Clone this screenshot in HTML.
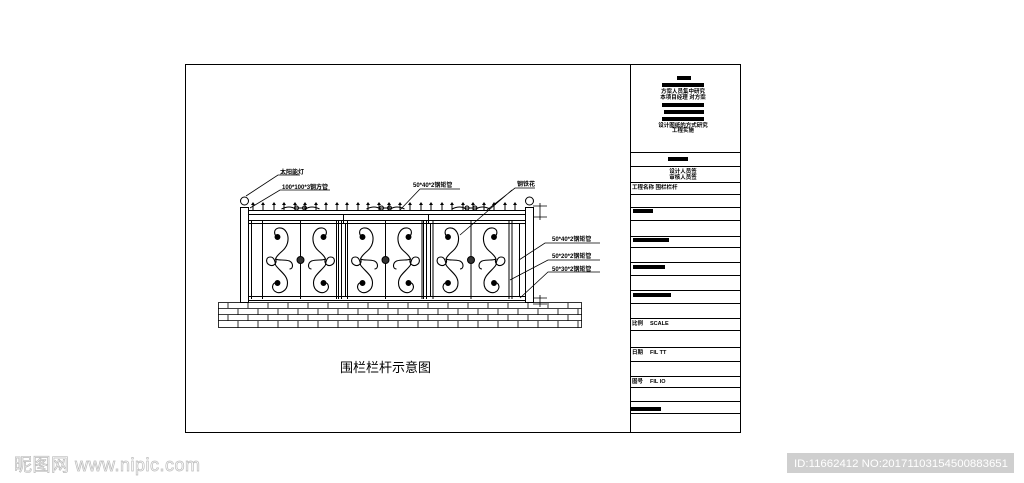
<!DOCTYPE html>
<html><head><meta charset="utf-8"><style>
html,body{margin:0;padding:0;background:#fff;}
body{width:1024px;height:483px;overflow:hidden;position:relative;font-family:"Liberation Sans","Noto Sans CJK SC",sans-serif;}
svg{position:absolute;left:0;top:0;}
</style></head><body>
<svg width="1024" height="483" viewBox="0 0 1024 483" xmlns="http://www.w3.org/2000/svg">
<defs>
<g id="sc" fill="none" stroke="#000" stroke-width="1.1">
<path d="M12,12 C8,10 8,4 13,3 C20,2 24,10 22,18 C20,26 12,28 10,34 C12,38 8,42 4,40 C0,38 0,32 5,32 C9,32 10,38 10,40"/>
<path d="M10,40 C14,46 22,50 22,58 C22,66 14,70 9,66 C5,62 8,56 12,58"/>
<path d="M10,34 C14,36 18,34 24,36 C28,38 28,44 24,44"/>
<circle cx="12" cy="12" r="2.4" fill="#000"/>
<circle cx="12" cy="58" r="2.4" fill="#000"/>
</g>
<g id="panel">
<line x1="0" y1="0" x2="0" y2="78" stroke="#000"/>
<line x1="11" y1="0" x2="11" y2="78" stroke="#000"/>
<line x1="49" y1="0" x2="49" y2="78" stroke="#000"/>
<line x1="87" y1="0" x2="87" y2="78" stroke="#000"/>
<line x1="90" y1="0" x2="90" y2="78" stroke="#000"/>
<use href="#sc" transform="translate(14,4)"/>
<use href="#sc" transform="translate(84,4) scale(-1,1)"/>
<circle cx="49" cy="39" r="3.5" fill="#333" stroke="#000"/>
<path d="M30,-12 q8,-4 14,0 M68,-12 q-8,-4 -14,0 M43,-13 h12" stroke="#000" fill="none"/>
<circle cx="45" cy="-13" r="2" fill="none" stroke="#000"/><circle cx="53" cy="-13" r="2" fill="none" stroke="#000"/>
</g>
</defs>
<rect x="185.5" y="64.5" width="555" height="368" fill="none" stroke="#000"/>
<line x1="630.5" y1="64" x2="630.5" y2="433" stroke="#000"/>
<g stroke="#000" stroke-width="1">
<line x1="630" y1="152.5" x2="740" y2="152.5"/><line x1="630" y1="166.5" x2="740" y2="166.5"/>
<line x1="630" y1="182.5" x2="740" y2="182.5"/><line x1="630" y1="194.5" x2="740" y2="194.5"/>
<line x1="630" y1="207.5" x2="740" y2="207.5"/><line x1="630" y1="220.5" x2="740" y2="220.5"/>
<line x1="630" y1="236.5" x2="740" y2="236.5"/><line x1="630" y1="247.5" x2="740" y2="247.5"/>
<line x1="630" y1="262.5" x2="740" y2="262.5"/><line x1="630" y1="275.5" x2="740" y2="275.5"/>
<line x1="630" y1="290.5" x2="740" y2="290.5"/><line x1="630" y1="303.5" x2="740" y2="303.5"/>
<line x1="630" y1="318.5" x2="740" y2="318.5"/><line x1="630" y1="330.5" x2="740" y2="330.5"/>
<line x1="630" y1="347.5" x2="740" y2="347.5"/><line x1="630" y1="361.5" x2="740" y2="361.5"/>
<line x1="630" y1="376.5" x2="740" y2="376.5"/><line x1="630" y1="387.5" x2="740" y2="387.5"/>
<line x1="630" y1="401.5" x2="740" y2="401.5"/><line x1="630" y1="413.5" x2="740" y2="413.5"/>
</g>
<g fill="#000">
<rect x="677" y="76" width="14" height="4"/>
<rect x="662" y="83" width="42" height="4"/>
<rect x="662" y="103" width="42" height="4"/>
<rect x="664" y="110" width="40" height="4"/>
<rect x="662" y="117" width="42" height="4"/>
<rect x="668" y="157" width="20" height="4"/>
<rect x="633" y="209" width="20" height="4"/>
<rect x="633" y="238" width="36" height="4"/>
<rect x="633" y="265" width="32" height="4"/>
<rect x="633" y="293" width="38" height="4"/>
<rect x="631" y="407" width="30" height="4"/>
</g>
<g font-size="5.5" fill="#000" text-anchor="middle" font-weight="bold">
<text x="683" y="93">方案人员集中研究</text><text x="683" y="99">本项目经理 对方案</text>
<text x="683" y="127">设计图纸的方式研究</text><text x="683" y="132">工程实施</text>
<text x="683" y="173">设计人员签</text><text x="683" y="179">审核人员签</text>
</g>
<g font-size="5.5" fill="#000" font-weight="bold">
<text x="632" y="189">工程名称 围栏栏杆</text>
<text x="632" y="325">比例</text><text x="650" y="325">SCALE</text>
<text x="632" y="354">日期</text><text x="650" y="354">FIL TT</text>
<text x="632" y="383">图号</text><text x="650" y="383">FIL IO</text>
</g>
<g stroke="#000" fill="none" stroke-width="1">
<rect x="240.5" y="207.5" width="8" height="95"/>
<rect x="525.5" y="207.5" width="8" height="95"/>
<circle cx="244.5" cy="201" r="4"/><circle cx="529.5" cy="201" r="4"/>
<line x1="248" y1="210.5" x2="525" y2="210.5"/><line x1="248" y1="214.5" x2="525" y2="214.5"/>
<line x1="248" y1="220.5" x2="525" y2="220.5"/><line x1="248" y1="223.5" x2="525" y2="223.5"/>
<line x1="248" y1="296.5" x2="525" y2="296.5"/><line x1="248" y1="300.5" x2="525" y2="300.5"/>
<line x1="343.5" y1="214" x2="343.5" y2="224"/><line x1="428.5" y1="214" x2="428.5" y2="224"/>
<line x1="345.5" y1="224" x2="345.5" y2="297"/><line x1="430.5" y1="224" x2="430.5" y2="297"/>
<line x1="519.5" y1="224" x2="519.5" y2="297"/>
</g>
<g stroke="#000">
<path d="M253,210 v-6 M263,210 v-6 M274,210 v-6 M284,210 v-6 M295,210 v-6 M305,210 v-6 M316,210 v-6 M326,210 v-6 M337,210 v-6 M347,210 v-6 M358,210 v-6 M368,210 v-6 M379,210 v-6 M389,210 v-6 M400,210 v-6 M410,210 v-6 M421,210 v-6 M431,210 v-6 M442,210 v-6 M452,210 v-6 M463,210 v-6 M473,210 v-6 M484,210 v-6 M494,210 v-6 M505,210 v-6 M515,210 v-6"/>
</g>
<g fill="#000">
<path d="M251,205 l2,-3 l2,3z M261,205 l2,-3 l2,3z M272,205 l2,-3 l2,3z M282,205 l2,-3 l2,3z M293,205 l2,-3 l2,3z M303,205 l2,-3 l2,3z M314,205 l2,-3 l2,3z M324,205 l2,-3 l2,3z M335,205 l2,-3 l2,3z M345,205 l2,-3 l2,3z M356,205 l2,-3 l2,3z M366,205 l2,-3 l2,3z M377,205 l2,-3 l2,3z M387,205 l2,-3 l2,3z M398,205 l2,-3 l2,3z M408,205 l2,-3 l2,3z M419,205 l2,-3 l2,3z M429,205 l2,-3 l2,3z M440,205 l2,-3 l2,3z M450,205 l2,-3 l2,3z M461,205 l2,-3 l2,3z M471,205 l2,-3 l2,3z M482,205 l2,-3 l2,3z M492,205 l2,-3 l2,3z M503,205 l2,-3 l2,3z M513,205 l2,-3 l2,3z"/>
</g>
<use href="#panel" transform="translate(251.5,221)"/>
<use href="#panel" transform="translate(336.5,221)"/>
<use href="#panel" transform="translate(422,221)"/>
<g stroke="#000" fill="none" stroke-width="0.8">
<rect x="218.5" y="302.5" width="363" height="25"/>
<path d="M218,308.5h364M218,314.5h364M218,320.5h364"/>
<path d="M228,303v5M248,303v5M268,303v5M288,303v5M308,303v5M328,303v5M348,303v5M368,303v5M388,303v5M408,303v5M428,303v5M448,303v5M468,303v5M488,303v5M508,303v5M528,303v5M548,303v5M568,303v5
M238,309v6M258,309v6M278,309v6M298,309v6M318,309v6M338,309v6M358,309v6M378,309v6M398,309v6M418,309v6M438,309v6M458,309v6M478,309v6M498,309v6M518,309v6M538,309v6M558,309v6M578,309v6
M228,315v6M248,315v6M268,315v6M288,315v6M308,315v6M328,315v6M348,315v6M368,315v6M388,315v6M408,315v6M428,315v6M448,315v6M468,315v6M488,315v6M508,315v6M528,315v6M548,315v6M568,315v6
M238,321v7M258,321v7M278,321v7M298,321v7M318,321v7M338,321v7M358,321v7M378,321v7M398,321v7M418,321v7M438,321v7M458,321v7M478,321v7M498,321v7M518,321v7M538,321v7M558,321v7M578,321v7"/>
</g>
<g stroke="#000" fill="none" stroke-width="0.8">
<path d="M246,196 L278,175 H300"/>
<path d="M250,208 L280,190 H330"/>
<path d="M400,210 L420,189 H460"/>
<path d="M487,210 L515,188 H535 M460,235 L512,190"/>
<path d="M519,260 L545,243 H600"/>
<path d="M510,280 L548,260 H600"/>
<path d="M520,298 L548,272 H600"/>
<path d="M533,206 h14 M533,217 h14 M540,203 v17 M533,298 h14 M533,304 h14 M540,295 v12"/>
</g>
<g font-size="6" fill="#000" font-weight="bold">
<text x="280" y="174">太阳能灯</text>
<text x="282" y="189">100*100*3钢方管</text>
<text x="413" y="187">50*40*2钢矩管</text>
<text x="517" y="186">钢铁花</text>
<text x="552" y="241">50*40*2钢矩管</text>
<text x="552" y="258">50*20*2钢矩管</text>
<text x="552" y="271">50*30*2钢矩管</text>
</g>
<text x="340" y="372" font-size="13" fill="#000">围栏栏杆示意图</text>
<text x="14" y="471" font-size="18" fill="#fff" stroke="#bbb" stroke-width="0.7" textLength="186">昵图网 www.nipic.com</text>
<rect x="787" y="453" width="227" height="20" fill="#cfcfcf"/>
<text x="794" y="467" font-size="11" fill="#fff" textLength="214" lengthAdjust="spacingAndGlyphs">ID:11662412 NO:20171103154500883651</text>
</svg>
</body></html>
